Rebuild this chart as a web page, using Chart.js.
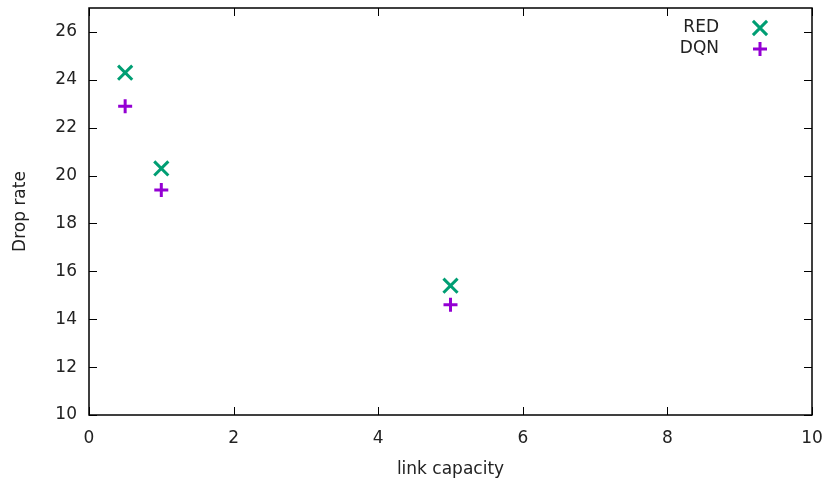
<!DOCTYPE html>
<html>
<head>
<meta charset="utf-8">
<script src="https://cdn.jsdelivr.net/npm/chart.js@4/dist/chart.umd.min.js"></script>
<style>
  html, body { margin: 0; padding: 0; background: #fff; }
  #wrap { width: 829px; height: 481px; }
</style>
</head>
<body>
<div id="wrap"><canvas id="dropChart"></canvas></div>
<script>
// data
const capacities = [0.5, 1, 5];
const redDrop = [24.3, 20.3, 15.4];
const dqnDrop = [22.9, 19.4, 14.6];
const seriesNames = ['RED', 'DQN'];
const xTicks = [0, 2, 4, 6, 8, 10];
const yTicks = [10, 12, 14, 16, 18, 20, 22, 24, 26];

const font = "'DejaVu Sans', sans-serif";

// gnuplot style: inward ticks on all four sides + box border
const boxTicks = {
  id: 'boxTicks',
  afterDraw(chart) {
    const { ctx, chartArea: a, scales } = chart;
    ctx.save();
    ctx.strokeStyle = '#000';
    ctx.lineWidth = 1;
    ctx.beginPath();
    xTicks.forEach(v => {
      const px = Math.round(scales.x.getPixelForValue(v)) + 0.5;
      ctx.moveTo(px, a.bottom); ctx.lineTo(px, a.bottom - 8);
      ctx.moveTo(px, a.top); ctx.lineTo(px, a.top + 8);
    });
    yTicks.forEach(v => {
      const py = Math.round(scales.y.getPixelForValue(v)) + 0.5;
      ctx.moveTo(a.left, py); ctx.lineTo(a.left + 8, py);
      ctx.moveTo(a.right, py); ctx.lineTo(a.right - 8, py);
    });
    ctx.stroke();
    ctx.lineWidth = 1.5;
    ctx.strokeRect(a.left, a.top, a.right - a.left, a.bottom - a.top);
    ctx.restore();
  }
};

// key in the top right: text then marker
const keyBox = {
  id: 'keyBox',
  afterDraw(chart) {
    const { ctx } = chart;
    ctx.save();
    ctx.font = '17px ' + font;
    ctx.fillStyle = '#222';
    ctx.textAlign = 'right';
    ctx.textBaseline = 'middle';
    chart.data.datasets.forEach((ds, i) => {
      const y = 28 + i * 21;
      ctx.fillText(ds.label, 719, y);
      ctx.strokeStyle = ds.borderColor;
      ctx.lineWidth = ds.borderWidth;
      Chart.helpers.drawPoint(ctx, {
        pointStyle: ds.pointStyle, radius: ds.pointRadius,
        rotation: 0, borderWidth: ds.borderWidth
      }, 760, y);
    });
    ctx.restore();
  }
};

function noPad(scale) {
  scale.paddingTop = 0;
  scale.paddingBottom = 0;
  scale.paddingLeft = 0;
  scale.paddingRight = 0;
}

new Chart(document.getElementById('dropChart'), {
  type: 'scatter',
  data: {
    datasets: [
      {
        label: seriesNames[0],
        data: capacities.map((c, i) => ({ x: c, y: redDrop[i] })),
        pointStyle: 'crossRot',
        pointRadius: 10,
        borderColor: '#009e73',
        backgroundColor: '#009e73',
        borderWidth: 3
      },
      {
        label: seriesNames[1],
        data: capacities.map((c, i) => ({ x: c, y: dqnDrop[i] })),
        pointStyle: 'cross',
        pointRadius: 7,
        borderColor: '#9400d3',
        backgroundColor: '#9400d3',
        borderWidth: 3
      }
    ]
  },
  options: {
    responsive: true,
    maintainAspectRatio: false,
    animation: false,
    layout: { autoPadding: false, padding: { top: 8, right: 17, left: 0, bottom: 0 } },
    scales: {
      x: {
        type: 'linear',
        min: 0, max: 10,
        afterFit(scale) { scale.height = 66; noPad(scale); },
        afterBuildTicks(scale) { scale.ticks = xTicks.map(v => ({ value: v })); },
        grid: { display: false, drawTicks: false },
        border: { display: false },
        ticks: { color: '#222', padding: 13, font: { family: font, size: 17 } },
        title: { display: true, text: 'link capacity', color: '#222', padding: { top: 8, bottom: 1 }, font: { family: font, size: 17 } }
      },
      y: {
        type: 'linear',
        min: 10, max: 27,
        afterFit(scale) { scale.width = 89; noPad(scale); },
        afterBuildTicks(scale) { scale.ticks = yTicks.map(v => ({ value: v })); },
        grid: { display: false, drawTicks: false },
        border: { display: false },
        ticks: { color: '#222', padding: 12, font: { family: font, size: 17 } },
        title: { display: true, text: 'Drop rate', color: '#222', padding: { top: 10, bottom: 18 }, font: { family: font, size: 17 } }
      }
    },
    plugins: {
      legend: { display: false },
      tooltip: { enabled: false }
    }
  },
  plugins: [boxTicks, keyBox]
});
</script>
</body>
</html>
